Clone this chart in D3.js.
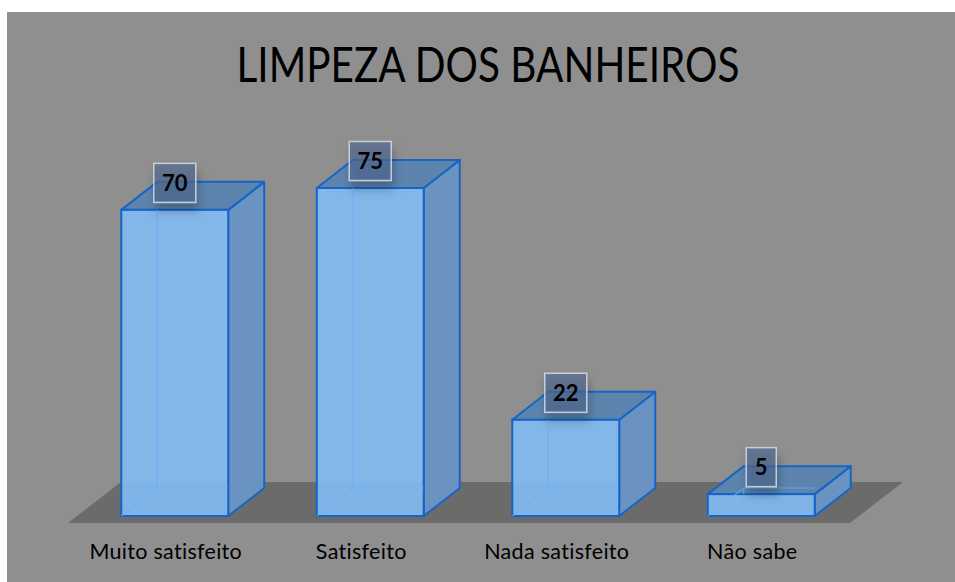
<!DOCTYPE html>
<html>
<head>
<meta charset="utf-8">
<script src="https://cdn.jsdelivr.net/npm/d3@7"></script>
<style>
  body { margin: 0; background: #ffffff; }
  svg { display: block; }
</style>
</head>
<body>
<div id="chart"></div>
<script>
var categories = ["Muito satisfeito", "Satisfeito", "Nada satisfeito", "Não sabe"];
var values = [70, 75, 22, 5];
var title = "LIMPEZA DOS BANHEIROS";

var width = 955, height = 582;

var svg = d3.select("#chart").append("svg")
    .attr("width", width)
    .attr("height", height);

var defs = svg.append("defs");
var blur = defs.append("filter").attr("id", "shadow")
    .attr("x", "-50%").attr("y", "-50%").attr("width", "200%").attr("height", "200%");
blur.append("feDropShadow")
    .attr("dx", 2).attr("dy", 8).attr("stdDeviation", 5)
    .attr("flood-color", "#000").attr("flood-opacity", 0.35);

// chart background
svg.append("rect")
    .attr("x", 7).attr("y", 12)
    .attr("width", width - 7).attr("height", height - 12)
    .attr("fill", "#8f8f8f");

// scales
var x = d3.scaleBand().domain(categories).range([68, 850]);
var y = d3.scaleLinear().domain([0, 75]).range([516, 188]);

// 3d offsets
var floorDx = 53, floorDy = -41, floorY = 523;
var dx = 36, dy = -28;
var inset = 9;        // bar front sits a bit behind floor front
var barW = x.bandwidth() * 0.547;

// floor
var x0 = x.range()[0], x1 = x.range()[1];
svg.append("path")
    .attr("d", "M" + x0 + "," + floorY + "L" + x1 + "," + floorY +
        "L" + (x1 + floorDx) + "," + (floorY + floorDy) +
        "L" + (x0 + floorDx) + "," + (floorY + floorDy) + "Z")
    .attr("fill", "#6b6b6b");

var bars = svg.selectAll("g.bar")
    .data(values)
    .enter().append("g")
    .attr("class", "bar");

function fx(d, i) { return x(categories[i]) + x.bandwidth() / 2 + inset - barW / 2; }

bars.each(function (d, i) {
    var g = d3.select(this);
    var l = fx(d, i), r = l + barW;
    var b = y(0), t = y(d);
    var stroke = "#1565c8";

    // hidden back edges
    g.append("path")
        .attr("d", "M" + l + "," + b + "L" + (l + dx) + "," + (b + dy) +
            "L" + (r + dx) + "," + (b + dy) +
            "M" + (l + dx) + "," + (b + dy) + "L" + (l + dx) + "," + (t + dy))
        .attr("fill", "none")
        .attr("stroke", "#62a6f2")
        .attr("stroke-width", 1.5);

    // side face
    g.append("path")
        .attr("d", "M" + r + "," + b + "L" + (r + dx) + "," + (b + dy) +
            "L" + (r + dx) + "," + (t + dy) + "L" + r + "," + t + "Z")
        .attr("fill", "#6a93c1")
        .attr("stroke", stroke).attr("stroke-width", 2)
        .attr("stroke-linejoin", "round");

    // top face
    g.append("path")
        .attr("d", "M" + l + "," + t + "L" + r + "," + t +
            "L" + (r + dx) + "," + (t + dy) + "L" + (l + dx) + "," + (t + dy) + "Z")
        .attr("fill", "#5d84ad")
        .attr("stroke", stroke).attr("stroke-width", 2)
        .attr("stroke-linejoin", "round");

    // front face
    g.append("rect")
        .attr("x", l).attr("y", t)
        .attr("width", barW).attr("height", b - t)
        .attr("fill", "rgba(130,185,240,0.93)")
        .attr("stroke", stroke).attr("stroke-width", 2);

    // back edges seen through the front
    g.append("path")
        .attr("d", "M" + l + "," + b + "L" + (l + dx) + "," + (b + dy) +
            "L" + (r) + "," + (b + dy) +
            "M" + (l + dx) + "," + (b + dy) + "L" + (l + dx) + "," + t)
        .attr("fill", "none")
        .attr("stroke", "#6aaef5")
        .attr("stroke-width", 1.2)
        .attr("opacity", 0.8);
});

// data labels
bars.each(function (d, i) {
    var g = d3.select(this);
    var cx = fx(d, i) + barW / 2;
    var cy = y(d) - 27;
    var txt = String(d);
    var w = txt.length > 1 ? 42 : 30;
    g.append("rect")
        .attr("x", cx - w / 2).attr("y", cy - 19.5)
        .attr("width", w).attr("height", 39)
        .attr("fill", "rgba(78,105,145,0.65)")
        .attr("stroke", "rgba(225,230,240,0.75)")
        .attr("stroke-width", 1.5)
        .attr("filter", "url(#shadow)");
    g.append("text")
        .attr("x", cx).attr("y", cy + 8)
        .attr("text-anchor", "middle")
        .attr("font-family", "Lato, 'Open Sans', sans-serif")
        .attr("font-weight", "bold")
        .attr("font-size", 22)
        .attr("fill", "#000")
        .text(txt);
});

// category labels
svg.selectAll("text.cat")
    .data(categories)
    .enter().append("text")
    .attr("class", "cat")
    .attr("x", function (d) { return x(d) + x.bandwidth() / 2; })
    .attr("y", 559)
    .attr("text-anchor", "middle")
    .attr("font-family", "Lato, 'Open Sans', sans-serif")
    .attr("font-size", 21.5)
    .attr("letter-spacing", 0.3)
    .attr("fill", "#000")
    .text(function (d) { return d; });

// title
svg.append("text")
    .attr("x", 488).attr("y", 82)
    .attr("text-anchor", "middle")
    .attr("font-family", "Lato, 'Open Sans', sans-serif")
    .attr("font-size", 48)
    .attr("textLength", 503)
    .attr("lengthAdjust", "spacingAndGlyphs")
    .attr("fill", "#000")
    .text(title);
</script>
</body>
</html>
